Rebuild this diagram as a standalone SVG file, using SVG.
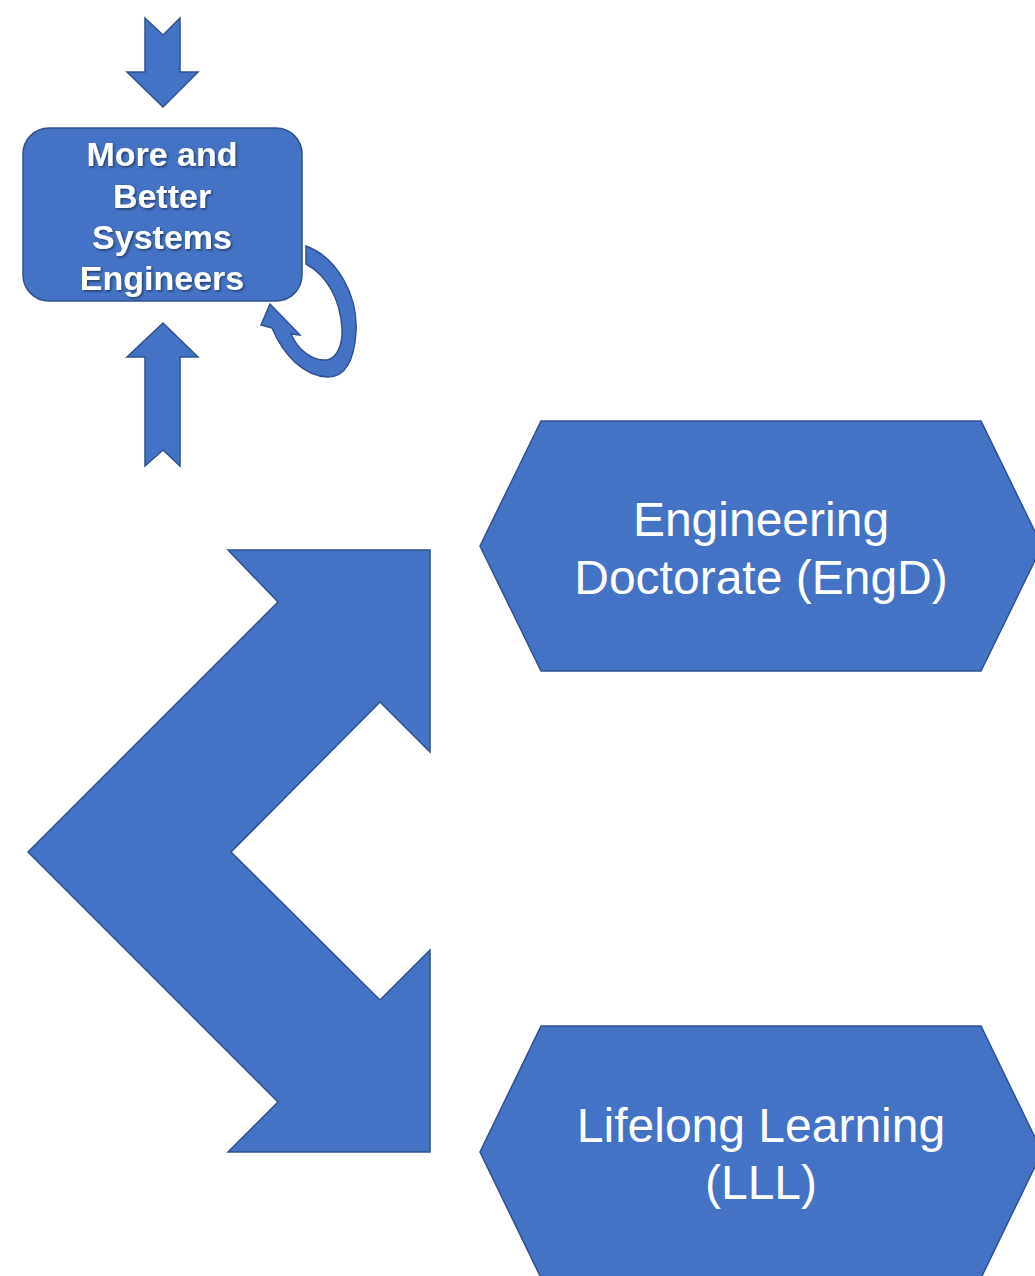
<svg xmlns="http://www.w3.org/2000/svg" width="1035" height="1276" viewBox="0 0 1035 1276">
<defs>
<style>
.shape{fill:#4472C4;stroke:#2F528F;stroke-width:1.5;stroke-linejoin:miter}
.bold{font-family:"Liberation Sans",Arial,sans-serif;font-weight:bold;font-size:34px;fill:#fff;text-anchor:middle}
.reg{font-family:"Liberation Sans",Arial,sans-serif;font-size:48px;fill:#fff;text-anchor:middle}
</style>
<filter id="sh" x="-10%" y="-10%" width="130%" height="140%">
<feDropShadow dx="1.5" dy="1.5" stdDeviation="1" flood-color="#000" flood-opacity="0.45"/>
</filter>
</defs>
<rect width="1035" height="1276" fill="#fff"/>
<g id="connectors">
<path id="arrow-down" class="shape" d="M145,18 L163,35 L180,18 L180,72 L198,72 L163,107 L127,72 L145,72 Z"/>
<path id="arrow-up" class="shape" d="M145,466 L163,450 L180,466 L180,357 L198,357 L163,323 L127,357 L145,357 Z"/>
<path id="arrow-loop" class="shape" d="M306,246 C338,258 358,296 356,332 C354,362 344,377 328,377 C304,376 284,356 272,328 L261,325 L270,304 L300,335 L291,334 C298,350 312,361 327,360 C337,358 343,345 342,328 C340,300 328,276 306,264 Z"/>
<path id="arrow-split" class="shape" d="M228,550 L430,550 L430,752 L380,702 L231,852 L380,1000 L430,950 L430,1152 L228,1152 L278,1102 L28,852 L278,602 Z"/>
</g>
<g id="node-se">
<rect class="shape" x="23" y="128" width="279" height="173" rx="26" ry="26"/>
<g filter="url(#sh)">
<text class="bold" x="162" y="166">More and</text>
<text class="bold" x="162" y="208">Better</text>
<text class="bold" x="162" y="249">Systems</text>
<text class="bold" x="162" y="290">Engineers</text>
</g>
</g>
<g id="node-engd">
<path class="shape" d="M541,421 L981,421 L1042,546 L981,671 L541,671 L480,546 Z"/>
<text class="reg" x="761" y="536">Engineering</text>
<text class="reg" x="761" y="594">Doctorate (EngD)</text>
</g>
<g id="node-lll">
<path class="shape" d="M541,1026 L981,1026 L1042,1152 L981,1278 L541,1278 L480,1152 Z"/>
<text class="reg" x="761" y="1142">Lifelong Learning</text>
<text class="reg" x="761" y="1199">(LLL)</text>
</g>
</svg>
